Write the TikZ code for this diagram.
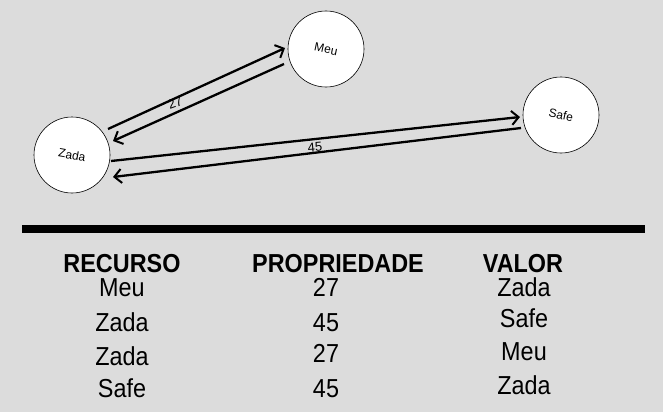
\documentclass[tikz,border=0pt]{standalone}
\usepackage{fontspec}
\setmainfont{Liberation Sans}
\newfontfamily\condfont[FakeStretch=0.9]{Liberation Sans}
\usetikzlibrary{arrows.meta}
\definecolor{bg}{HTML}{DCDCDC}
\begin{document}
\begin{tikzpicture}[x=1pt,y=-1pt,
  state/.style={circle,draw=black,line width=0.6pt,fill=white,minimum size=76pt,inner sep=0pt},
  lbl/.style={font=\fontsize{12}{12}\selectfont},
  elbl/.style={font=\fontsize{13}{13}\selectfont,inner sep=0pt},
  conn/.style={line width=2.3pt,-{Straight Barb[length=7pt,width=14pt,line width=2pt]}},
  hdr/.style={font=\condfont\fontsize{26}{26}\bfseries\selectfont,anchor=base},
  cell/.style={font=\condfont\fontsize{26}{26}\selectfont,anchor=base}]
\fill[bg] (0,0) rectangle (663,412);
\useasboundingbox (0,0) rectangle (663,412);
\node[state] (meu) at (326,49) {};
\node[lbl,rotate=-12] at (meu) {Meu};
\node[state] (zada) at (72,155) {};
\node[lbl,rotate=-10] at (zada) {Zada};
\node[state] (safe) at (561,115) {};
\node[lbl,rotate=-12] at (safe) {Safe};
\coordinate (zm1) at (108,129);
\coordinate (zm2) at (285,48);
\coordinate (mz1) at (284,64);
\coordinate (mz2) at (113,141);
\coordinate (zs1) at (111,161);
\coordinate (zs2) at (520,117);
\coordinate (sz1) at (521,128);
\coordinate (sz2) at (113,177);
\draw[conn] (zm1) -- (zm2);
\draw[conn] (mz1) -- (mz2);
\draw[conn] (zs1) -- (zs2);
\draw[conn] (sz1) -- (sz2);
\node[elbl,rotate=20] (l27) at (175,103) {27};
\node[elbl,rotate=5] (l45) at (315,147) {45};
\coordinate (ra) at (22,229);
\coordinate (rb) at (645,229);
\draw[line width=8pt] (ra) -- (rb);
\node[hdr] (h1) at (122,272) {RECURSO};
\node[hdr] (h2) at (338,272) {PROPRIEDADE};
\node[hdr] (h3) at (523,272) {VALOR};
\node[cell] (a1) at (122,296) {Meu};
\node[cell] (b1) at (326,296) {27};
\node[cell] (c1) at (524,296) {Zada};
\node[cell] (a2) at (122,331) {Zada};
\node[cell] (b2) at (326,331) {45};
\node[cell] (c2) at (524,327) {Safe};
\node[cell] (a3) at (122,365) {Zada};
\node[cell] (b3) at (326,362) {27};
\node[cell] (c3) at (524,360) {Meu};
\node[cell] (a4) at (122,397) {Safe};
\node[cell] (b4) at (326,397) {45};
\node[cell] (c4) at (524,394) {Zada};
\end{tikzpicture}
\end{document}
